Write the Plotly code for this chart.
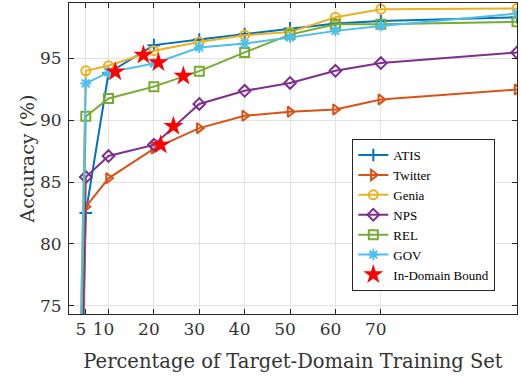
import plotly.graph_objects as go

x_pct = [0, 5, 10, 20, 30, 40, 50, 60, 70, 100]
atis = [0, 82.5, 93.8, 96.05, 96.5, 96.95, 97.4, 97.8, 98.0, 98.3]
twitter = [0, 83.0, 85.3, 87.7, 89.35, 90.35, 90.67, 90.86, 91.67, 92.47]
genia = [0, 93.98, 94.38, 95.6, 96.3, 96.85, 97.1, 98.3, 98.95, 99.0]
nps = [0, 85.4, 87.1, 88.0, 91.3, 92.36, 93.0, 93.98, 94.6, 95.46]
rel = [0, 90.3, 91.75, 92.7, 93.95, 95.46, 96.9, 97.74, 97.74, 97.93]
gov = [0, 92.96, 93.85, 94.57, 95.86, 96.18, 96.67, 97.2, 97.6, 98.6]

bound_x = [11.5, 17.7, 21.0, 26.5, 24.3, 21.5]
bound_y = [93.9, 95.25, 94.65, 93.55, 89.5, 88.0]

x_ticks = [5, 10, 20, 30, 40, 50, 60, 70]
y_ticks = [75, 80, 85, 90, 95]

series = [
    ("ATIS", atis, "#0072BD", "cross-thin-open"),
    ("Twitter", twitter, "#D95319", "triangle-right-open"),
    ("Genia", genia, "#EDB120", "circle-open"),
    ("NPS", nps, "#7E2F8E", "diamond-open"),
    ("REL", rel, "#77AC30", "square-open"),
    ("GOV", gov, "#4DBEEE", "asterisk-open"),
]

FONT = "DejaVu Serif"
LFONT = "Liberation Serif"
TXT = "#333333"

fig = go.Figure()
for name, vals, color, sym in series:
    fig.add_trace(go.Scatter(
        x=x_pct, y=vals, name=name, mode="lines+markers",
        line=dict(color=color, width=2),
        marker=dict(symbol=sym, size=9, color=color,
                    line=dict(color=color, width=2)),
        cliponaxis=True,
    ))

fig.add_trace(go.Scatter(
    x=bound_x, y=bound_y, name="In-Domain Bound", mode="markers",
    marker=dict(symbol="star", size=15, color="#FF0000",
                line=dict(width=0)),
))

axis_common = dict(
    showline=True, linecolor="#262626", linewidth=1, mirror="ticks",
    ticks="inside", ticklen=5, tickcolor="#262626",
    showgrid=True, gridcolor="#e3e3e3", gridwidth=1, zeroline=False,
    tickfont=dict(family=FONT, size=17, color=TXT),
)

fig.update_xaxes(
    range=[1.3, 100], tickvals=x_ticks,
    ticktext=[str(v) for v in x_ticks],
    ticklabelshift=-5,
    title=dict(text="Percentage of Target-Domain Training Set",
               font=dict(family=FONT, size=19.5, color=TXT)),
    automargin=False,
    **axis_common,
)
fig.update_yaxes(
    range=[74.35, 99.45], tickvals=y_ticks,
    title=dict(text="Accuracy (%)",
               font=dict(family=FONT, size=19, color=TXT), standoff=0),
    ticklabelstandoff=3,
    automargin=True,
    **axis_common,
)

fig.update_layout(
    width=521, height=379,
    margin=dict(l=69, r=4, t=3, b=65),
    plot_bgcolor="white", paper_bgcolor="white",
    legend=dict(
        x=0.792, y=0.318, xanchor="center", yanchor="middle",
        bgcolor="white", bordercolor="#262626", borderwidth=1,
        font=dict(family=LFONT, size=13, color="#000000"),
        tracegroupgap=0,
    ),
    showlegend=True,
)

fig.write_html("out.html",
               config={"displayModeBar": False},
               post_script="document.body.style.margin='0';")
